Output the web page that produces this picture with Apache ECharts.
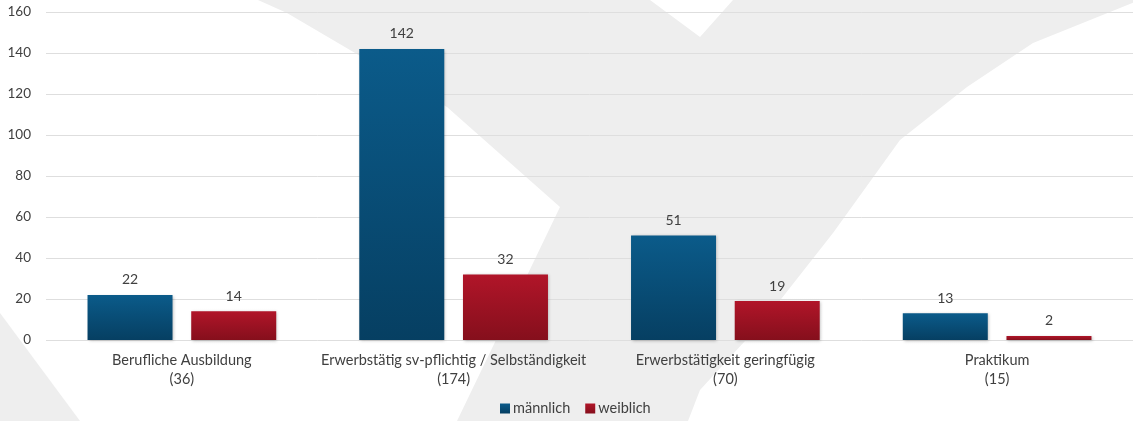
<!DOCTYPE html>
<html>
<head>
    <meta charset="utf-8" />
    <title>Beschäftigung nach Geschlecht</title>
    <script type="text/javascript" src="https://cdn.jsdelivr.net/npm/echarts@6/dist/echarts.min.js"></script>
    <style>
        html, body { margin: 0; padding: 0; background: #fff; }
    </style>
</head>
<body>
<div id="main" style="width: 1133px;height:421px;"></div>
<script type="text/javascript">
    // Daten
    var categories = ['Berufliche Ausbildung', 'Erwerbstätig sv-pflichtig / Selbständigkeit', 'Erwerbstätigkeit geringfügig', 'Praktikum'];
    var totals = [36, 174, 70, 15];
    var maennlich = [22, 142, 51, 13];
    var weiblich = [14, 32, 19, 2];
    var yTicks = [0, 20, 40, 60, 80, 100, 120, 140, 160];

    var labelFont = 'Lato, "Open Sans", sans-serif';

    function grad(top, bottom) {
        return new echarts.graphic.LinearGradient(0, 0, 0, 1, [
            { offset: 0, color: top },
            { offset: 1, color: bottom }
        ]);
    }

    var myChart = echarts.init(document.getElementById('main'));
    var option = {
        animation: false,
        backgroundColor: '#ffffff',
        textStyle: { fontFamily: labelFont },
        // grauer Hintergrund-Schriftzug
        graphic: [
            {
                type: 'polygon', z: -100, silent: true,
                shape: { points: [[258, 0], [650, 0], [700, 37], [733, 0], [1140, 0], [1033, 43], [967, 87], [900, 140],
                                  [833, 233], [767, 317], [700, 390], [688, 421], [457, 421], [560, 207], [447, 107], [287, 13]] },
                style: { fill: '#eeeeee' }
            },
            {
                type: 'polygon', z: -100, silent: true,
                shape: { points: [[0, 313], [80, 421], [0, 421]] },
                style: { fill: '#eeeeee' }
            }
        ],
        legend: {
            data: ['männlich', 'weiblich'],
            bottom: 0,
            left: 495,
            itemWidth: 10,
            itemHeight: 10,
            itemGap: 15,
            icon: 'rect',
            textStyle: { color: '#404040', fontSize: 14.5, fontFamily: labelFont, padding: [0, 0, 0, -2] }
        },
        grid: { left: 46, right: 0, top: 12, bottom: 81, containLabel: false },
        xAxis: {
            type: 'category',
            data: categories,
            axisLine: { show: false },
            axisTick: { show: false },
            axisLabel: {
                interval: 0,
                margin: 11,
                color: '#404040',
                fontSize: 14.5,
                lineHeight: 19,
                fontFamily: labelFont,
                formatter: function (v, i) { return v + '\n(' + totals[i] + ')'; }
            }
        },
        yAxis: {
            type: 'value',
            min: yTicks[0],
            max: yTicks[yTicks.length - 1],
            interval: 20,
            axisLine: { show: false },
            axisTick: { show: false },
            axisLabel: { color: '#404040', fontSize: 13.5, margin: 15, fontFamily: labelFont },
            splitLine: { lineStyle: { color: '#dedede', width: 1 } }
        },
        series: [
            {
                name: 'männlich',
                type: 'bar',
                data: maennlich,
                barWidth: 85,
                barGap: '22%',
                itemStyle: {
                    color: grad('#0b5b8a', '#063f62'),
                    shadowColor: 'rgba(0,0,0,0.25)', shadowBlur: 3, shadowOffsetX: 1, shadowOffsetY: 1
                },
                label: { show: true, position: 'top', distance: 8, color: '#404040', fontSize: 14, fontFamily: labelFont }
            },
            {
                name: 'weiblich',
                type: 'bar',
                data: weiblich,
                barWidth: 85,
                itemStyle: {
                    color: grad('#b11529', '#850f1c'),
                    shadowColor: 'rgba(0,0,0,0.25)', shadowBlur: 3, shadowOffsetX: 1, shadowOffsetY: 1
                },
                label: { show: true, position: 'top', distance: 8, color: '#404040', fontSize: 14, fontFamily: labelFont }
            }
        ]
    };
    myChart.setOption(option);
</script>
</body>
</html>
